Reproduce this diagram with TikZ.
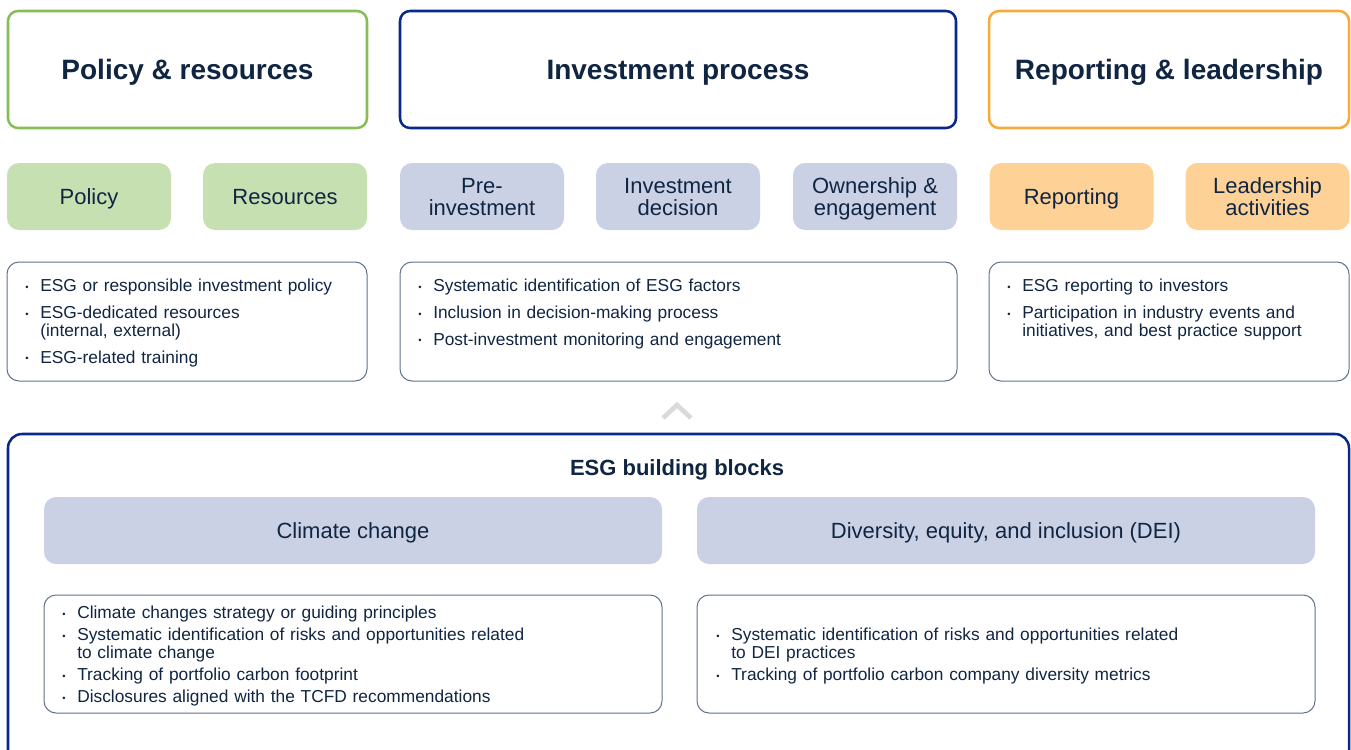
\documentclass[tikz,border=0pt]{standalone}
\usepackage{fontspec}
\setmainfont{Liberation Sans}
\usepackage{tikz}

\definecolor{navy}{RGB}{16,37,66}
\definecolor{grnline}{RGB}{134,190,86}
\definecolor{grnfill}{RGB}{198,224,178}
\definecolor{bluline}{RGB}{8,40,140}
\definecolor{lavfill}{RGB}{203,209,229}
\definecolor{orgline}{RGB}{247,170,60}
\definecolor{orgfill}{RGB}{254,210,150}
\definecolor{lstline}{RGB}{95,113,140}
\definecolor{chevgray}{RGB}{218,218,218}

\newcommand{\bitem}[1]{\hangindent=11.25pt\hangafter=1\noindent\makebox[11.25pt][l]{\raisebox{1pt}{\fontsize{7}{7}\selectfont\textbullet}}#1\par}

\begin{document}
\begin{tikzpicture}[
		x=0.75pt, y=-0.75pt,
		every node/.style={text=navy, inner sep=0pt},
		hdbox/.style={rectangle, rounded corners=7.5pt, line width=1.9pt, fill=white, minimum height=87.75pt, text depth=0pt, font=\fontsize{21}{21}\selectfont\bfseries},
		tabbox/.style={rectangle, rounded corners=9pt, minimum width=123pt, minimum height=50.25pt, text depth=0pt, align=center, font=\fontsize{16.5}{16.5}\selectfont},
		listbox/.style={rectangle, rounded corners=9pt, draw=lstline, line width=0.75pt},
		listtext/.style={anchor=north west, text width=400pt, align=left, font=\fontsize{13}{13.5}\selectfont, execute at begin node={\setlength{\parskip}{#1}}},
		chev/.style={draw=chevgray, line width=3.5pt}
	]
  \useasboundingbox (0,0) rectangle (1351,749);
  \clip (0,0) rectangle (1351,749);
  % headers
  \node (hd_pol) [hdbox, draw=grnline, minimum width=269.25pt] at (187.5,69.5) {Policy \& resources};
  \node (hd_inv) [hdbox, draw=bluline, minimum width=417pt] at (678,69.5) {Investment process};
  \node (hd_rep) [hdbox, draw=orgline, minimum width=270pt] at (1169,69.5) {Reporting \& leadership};
  % tabs
  \node (tb_policy) [tabbox, fill=grnfill] at (89,196.5) {Policy};
  \node (tb_resrc) [tabbox, fill=grnfill] at (285,196.5) {Resources};
  \node (tb_pre) [tabbox, fill=lavfill] at (482,196.5) {Pre-\\investment};
  \node (tb_dec) [tabbox, fill=lavfill] at (678,196.5) {Investment\\decision};
  \node (tb_own) [tabbox, fill=lavfill] at (875,196.5) {Ownership \&\\engagement};
  \node (tb_rep) [tabbox, fill=orgfill] at (1071.5,196.5) {Reporting};
  \node (tb_lead) [tabbox, fill=orgfill] at (1267.5,196.5) {Leadership\\activities};
  % lists
  \node (ls_pol) [listbox, minimum width=270pt, minimum height=89.25pt] at (187,321.5) {};
  \node (ls_inv) [listbox, minimum width=417.75pt, minimum height=89.25pt] at (678.5,321.5) {};
  \node (ls_rep) [listbox, minimum width=270pt, minimum height=89.25pt] at (1169,321.5) {};
  \node (tx_pol) [listtext=6.5pt] at (25,279) {%
    \bitem{ESG or responsible investment policy}
    \bitem{ESG-dedicated resources\newline(internal, external)}
    \bitem{ESG-related training}};
  \node (tx_inv) [listtext=6.5pt] at (418,279) {%
    \bitem{Systematic identification of ESG factors}
    \bitem{Inclusion in decision-making process}
    \bitem{Post-investment monitoring and engagement}};
  \node (tx_rep) [listtext=6.5pt] at (1007,279) {%
    \bitem{ESG reporting to investors}
    \bitem{Participation in industry events and\newline initiatives, and best practice support}};
  % chevron
  \draw [chev] (663,418) -- (677,405) -- (691,418);
  % building blocks
  \node (bb) [rectangle, rounded corners=10.5pt, draw=bluline, line width=1.9pt, minimum width=1005.75pt, minimum height=247.5pt] at (678.5,599) {};
  \node (bb_title) [font=\fontsize{16.5}{16.5}\selectfont\bfseries] at (677,470) {ESG building blocks};
  \node (tb_clim) [tabbox, fill=lavfill, minimum width=463.5pt] at (353,530.5) {Climate change};
  \node (tb_dei) [tabbox, fill=lavfill, minimum width=463.5pt] at (1006,530.5) {Diversity, equity, and inclusion (DEI)};
  \node (ls_clim) [listbox, minimum width=463.5pt, minimum height=88.5pt] at (353,654) {};
  \node (ls_dei) [listbox, minimum width=463.5pt, minimum height=88.5pt] at (1006,654) {};
  \node (tx_clim) [listtext=3pt] at (62,606) {%
    \bitem{Climate changes strategy or guiding principles}
    \bitem{Systematic identification of risks and opportunities related\newline to climate change}
    \bitem{Tracking of portfolio carbon footprint}
    \bitem{Disclosures aligned with the TCFD recommendations}};
  \node (tx_dei) [listtext=3pt] at (716,628) {%
    \bitem{Systematic identification of risks and opportunities related\newline to DEI practices}
    \bitem{Tracking of portfolio carbon company diversity metrics}};
\end{tikzpicture}
\end{document}
